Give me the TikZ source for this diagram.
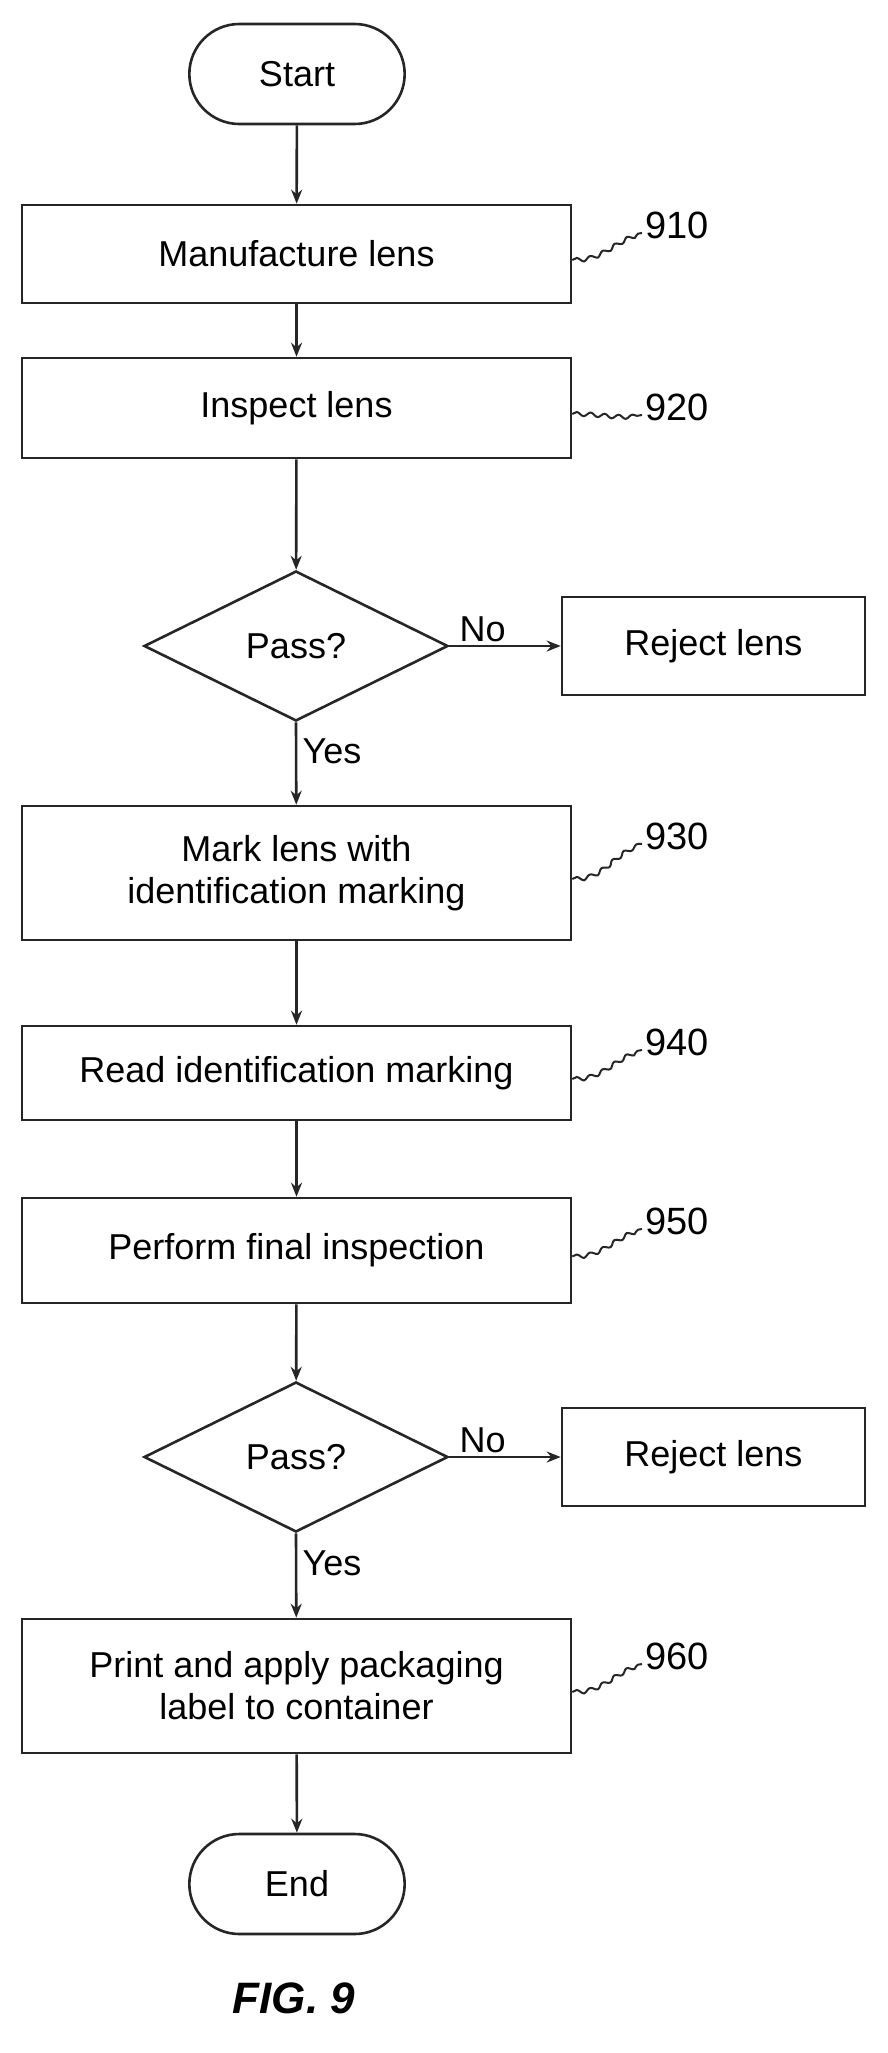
\documentclass[tikz,border=0pt]{standalone}
\usepackage{fontspec}
\setmainfont{Liberation Sans}
\usetikzlibrary{shapes.geometric,shapes.misc,arrows.meta,decorations.pathmorphing}
\begin{document}
\begin{tikzpicture}[x=1pt,y=-1pt,
  every node/.style={font=\fontsize{36}{42}\selectfont},
  ln/.style={line width=2.6pt,draw=black!85},
  box/.style={ln,rectangle,minimum width=549pt,align=center,inner sep=0pt},
  rej/.style={ln,rectangle,minimum width=303pt,minimum height=98pt,inner sep=0pt},
  term/.style={ln,rounded rectangle,minimum width=222pt,minimum height=100pt},
  dec/.style={ln,diamond,aspect=2.03,minimum width=304pt,minimum height=150pt,inner sep=0pt},
  arr/.style={ln,-{Stealth[length=14pt,width=11pt,open]}},
  lead/.style={ln,line width=2pt,decorate,decoration={snake,amplitude=2pt,segment length=14pt}},
  num/.style={font=\fontsize{38}{42}\selectfont}]
\useasboundingbox (0,0) rectangle (888,2053);
\node[term] (start) at (297,74) {Start};
\node[box,minimum height=98pt] (b910) at (296.5,254) {Manufacture lens};
\node[box,minimum height=100pt] (b920) at (296.5,408) {Inspect lens};
\node[dec] (d1) at (296,646) {Pass?};
\node[rej] (r1) at (713.5,646) {Reject lens};
\node[box,minimum height=134pt] (b930) at (296.5,873) {Mark lens with\\identification marking};
\node[box,minimum height=94pt] (b940) at (296.5,1073) {Read identification marking};
\node[box,minimum height=105pt] (b950) at (296.5,1250.5) {Perform final inspection};
\node[dec] (d2) at (296,1457) {Pass?};
\node[rej] (r2) at (713.5,1457) {Reject lens};
\node[box,minimum height=134pt] (b960) at (296.5,1686) {Print and apply packaging\\label to container};
\node[term] (end) at (297,1884) {End};
\node[font=\itshape\bfseries\fontsize{44}{48}\selectfont] (fig) at (294,1998) {FIG. 9};

\draw[arr] (start) -- (b910);
\draw[arr] (b910) -- (b920);
\draw[arr] (b920) -- (d1);
\draw[arr] (d1.south) -- node[right,pos=0.35,xshift=2pt] (y1) {Yes} (b930);
\draw[arr] (d1.east) -- node[above,pos=0.3] (n1) {No} (r1.west);
\draw[arr] (b930) -- (b940);
\draw[arr] (b940) -- (b950);
\draw[arr] (b950) -- (d2);
\draw[arr] (d2.south) -- node[right,pos=0.35,xshift=2pt] (y2) {Yes} (b960);
\draw[arr] (d2.east) -- node[above,pos=0.3] (n2) {No} (r2.west);
\draw[arr] (b960) -- (end);

\foreach \b/\n/\y in {b910/910/225,b920/920/407,b930/930/836,b940/940/1042,b950/950/1221,b960/960/1656}{
  \node[num,anchor=west] (l\n) at (642,\y) {\n};
  \coordinate (c\n) at ([yshift=-8pt]l\n.west);
  \draw[lead] ([yshift=-6pt]\b.east) to[out=0,in=190] (c\n);
}
\end{tikzpicture}
\end{document}
